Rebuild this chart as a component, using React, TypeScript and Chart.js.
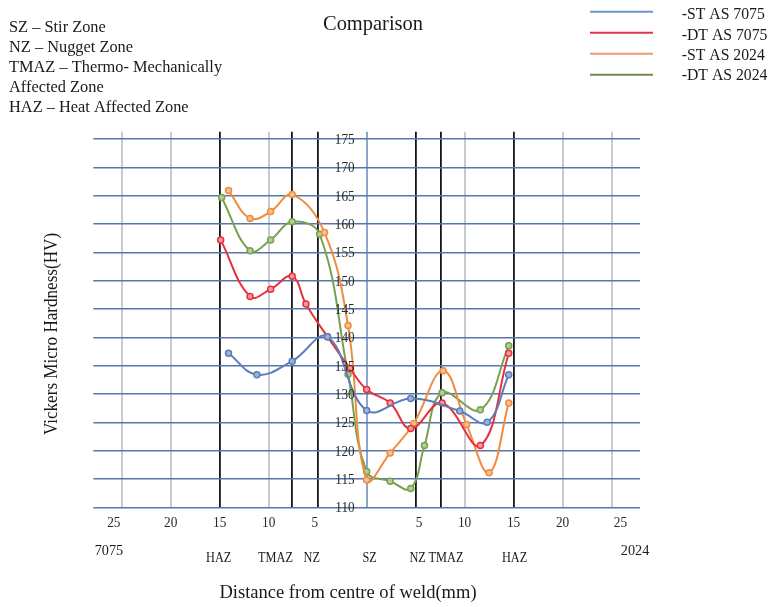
import { useEffect, useRef } from 'react';
import { Chart, registerables } from 'chart.js';

Chart.register(...registerables);

// ---- data ----
const seriesNames = ['-ST AS 7075', '-DT AS 7075', '-ST AS 2024', '-DT AS 2024'];

const st7075X = [-14.1, -11.2, -7.6, -4.0, 0, 4.5, 9.5, 12.3, 14.5];
const st7075Y = [137.2, 133.4, 135.8, 140.1, 127.1, 129.2, 127.0, 125.0, 133.4];

const dt7075X = [-14.9, -11.9, -9.8, -7.6, -6.2, -4.0, -1.7, 0, 2.4, 4.5, 7.7, 11.6, 14.5];
const dt7075Y = [157.2, 147.2, 148.5, 150.8, 145.9, 140.1, 134.5, 130.8, 128.4, 123.9, 128.4, 120.9, 137.2];

const st2024X = [-14.1, -11.9, -9.8, -7.6, -4.3, -1.9, 0, 2.4, 4.8, 7.8, 10.2, 12.5, 14.5];
const st2024Y = [165.9, 161.0, 162.2, 165.2, 158.5, 142.1, 114.8, 119.6, 124.8, 134.1, 124.6, 116.1, 128.4];

const dt2024X = [-14.8, -11.9, -9.8, -7.6, -4.8, -1.9, 0, 2.4, 4.5, 5.9, 7.7, 11.6, 14.5];
const dt2024Y = [164.7, 155.3, 157.2, 160.4, 158.2, 133.5, 116.3, 114.6, 113.3, 120.9, 130.2, 127.2, 138.5];

const xTickLabels = ['25', '20', '15', '10', '5', '5', '10', '15', '20', '25'];
const xTickLabelPos = [-25.8, -20, -15, -10, -5.3, 5.35, 10, 15, 20, 25.9];
const zoneLines = [-15, -7.6, -5, 5, 7.6, 15];
const lightLines = [-25, -20, -10, 10, 20, 25];
const zoneLabels = ['HAZ', 'TMAZ', 'NZ', 'SZ', 'NZ', 'TMAZ', 'HAZ'];
const zoneLabelPos = [-15.1, -9.3, -5.6, 0.3, 5.2, 8.1, 15.1];
const alloyLabels = ['7075', '2024'];
const alloyLabelPos = [-26.3, 27.4];
const notes = [
  'SZ – Stir Zone',
  'NZ – Nugget Zone',
  'TMAZ – Thermo- Mechanically',
  'Affected Zone',
  'HAZ – Heat Affected Zone',
];
const chartTitle = 'Comparison';
const xTitle = 'Distance from centre of weld(mm)';
const yTitle = 'Vickers Micro Hardness(HV)';

// ---- styles ----
const lineColors = ['#5b7db8', '#e8303a', '#f08c40', '#78a050'];
const pointFills = ['#9bb2dc', '#f59aa0', '#f7c090', '#b4cf94'];
const legendColors = ['#6b96d0', '#d83a4c', '#f09a6c', '#6f8a54'];
const FONT = '"Liberation Serif", "Times New Roman", serif';

function pts(xs: number[], ys: number[]) {
  return xs.map((x, i) => ({ x, y: ys[i] }));
}

function text(
  ctx: CanvasRenderingContext2D,
  s: string,
  x: number,
  y: number,
  size: number,
  align: CanvasTextAlign,
  sx: number,
  color = '#1a1a1a'
) {
  ctx.save();
  ctx.font = `${size}px ${FONT}`;
  ctx.fillStyle = color;
  ctx.textAlign = align;
  ctx.textBaseline = 'alphabetic';
  ctx.translate(x, y);
  ctx.scale(sx, 1);
  ctx.fillText(s, 0, 0);
  ctx.restore();
}

const decorPlugin = {
  id: 'decor',
  afterDraw(chart: any) {
    const ctx: CanvasRenderingContext2D = chart.ctx;
    const xs = chart.scales.x;
    const ys = chart.scales.y;
    const x0 = xs.getPixelForValue(0);

    // y tick labels at centre axis
    ys.ticks.forEach((t: any) => {
      const py = ys.getPixelForValue(t.value);
      text(ctx, String(t.value), x0 - 12, py + 5.1, 15, 'right', 0.88, '#2a2a2a');
    });

    // x tick labels
    xTickLabels.forEach((l, i) => {
      text(ctx, l, xs.getPixelForValue(xTickLabelPos[i]), 527, 15.5, 'center', 0.86, '#2a2a2a');
    });

    // zone labels
    zoneLabels.forEach((l, i) => {
      text(ctx, l, xs.getPixelForValue(zoneLabelPos[i]), 561.5, 15, 'center', 0.82, '#1a1a1a');
    });
    alloyLabels.forEach((l, i) => {
      text(ctx, l, xs.getPixelForValue(alloyLabelPos[i]), 555, 15, 'center', 0.95, '#1a1a1a');
    });

    // axis titles
    text(ctx, xTitle, 348, 598, 19.5, 'center', 0.95, '#1a1a1a');
    ctx.save();
    ctx.translate(52, 334);
    ctx.rotate(-Math.PI / 2);
    ctx.scale(0.95, 1);
    ctx.font = `18px ${FONT}`;
    ctx.fillStyle = '#1a1a1a';
    ctx.textAlign = 'center';
    ctx.textBaseline = 'middle';
    ctx.fillText(yTitle, 0, 0);
    ctx.restore();

    // title
    text(ctx, chartTitle, 373, 30, 22, 'center', 0.93, '#1a1a1a');

    // notes
    notes.forEach((n, i) => {
      text(ctx, n, 9, 32.3 + 19.8 * i, 17.5, 'left', 0.935, '#1a1a1a');
    });

    // legend
    seriesNames.forEach((n, i) => {
      const ly = 11.8 + 21 * i;
      ctx.save();
      ctx.strokeStyle = legendColors[i];
      ctx.lineWidth = 2;
      ctx.beginPath();
      ctx.moveTo(590, ly);
      ctx.lineTo(653, ly);
      ctx.stroke();
      ctx.restore();
      text(ctx, n, 681.7, 19.2 + 20.3 * i, 17.5, 'left', 0.9, '#1a1a1a');
    });
  },
};

export default function App() {
  const ref = useRef<HTMLCanvasElement>(null);

  useEffect(() => {
    if (!ref.current) return;
    const series = [
      pts(st7075X, st7075Y),
      pts(dt7075X, dt7075Y),
      pts(st2024X, st2024Y),
      pts(dt2024X, dt2024Y),
    ];
    const chart = new Chart(ref.current, {
      type: 'scatter',
      data: {
        datasets: series.map((d, i) => ({
          label: seriesNames[i],
          data: d,
          showLine: true,
          borderColor: lineColors[i],
          backgroundColor: pointFills[i],
          borderWidth: 2,
          tension: 0.4,
          pointRadius: 3,
          pointBorderWidth: 1.5,
          pointBorderColor: lineColors[i],
          pointBackgroundColor: pointFills[i],
          clip: false as any,
        })),
      },
      options: {
        animation: false,
        responsive: false,
        devicePixelRatio: 1,
        layout: { padding: { left: 93.3, right: 131, top: 131.7, bottom: 99.7 } },
        plugins: { legend: { display: false }, title: { display: false }, tooltip: { enabled: false } },
        scales: {
          x: {
            type: 'linear',
            min: -27.9,
            max: 27.9,
            afterBuildTicks: (scale: any) => {
              const vals = [...lightLines, ...zoneLines, 0].sort((a, b) => a - b);
              scale.ticks = vals.map((v) => ({ value: v }));
            },
            ticks: { display: false },
            border: { display: false },
            grid: {
              drawTicks: false,
              color: (c: any) => {
                const v = c.tick ? c.tick.value : 999;
                if (v === 0) return '#8ea6cc';
                if (zoneLines.includes(v)) return '#151515';
                return '#c6cad1';
              },
              lineWidth: (c: any) => {
                const v = c.tick ? c.tick.value : 999;
                if (zoneLines.includes(v)) return 1.8;
                return 2;
              },
            },
          },
          y: {
            type: 'linear',
            min: 110,
            max: 176.3,
            position: { x: 0 } as any,
            ticks: { display: false, stepSize: 5, includeBounds: false } as any,
            border: { display: false },
            grid: { drawTicks: false, color: '#5676ad', lineWidth: 1.6 },
          },
        },
      },
      plugins: [decorPlugin],
    });
    return () => chart.destroy();
  }, []);

  return (
    <div style={{ position: 'fixed', left: 0, top: 0, width: 771, height: 607, background: '#fff' }}>
      <canvas ref={ref} width={771} height={607} style={{ width: 771, height: 607 }} />
    </div>
  );
}
